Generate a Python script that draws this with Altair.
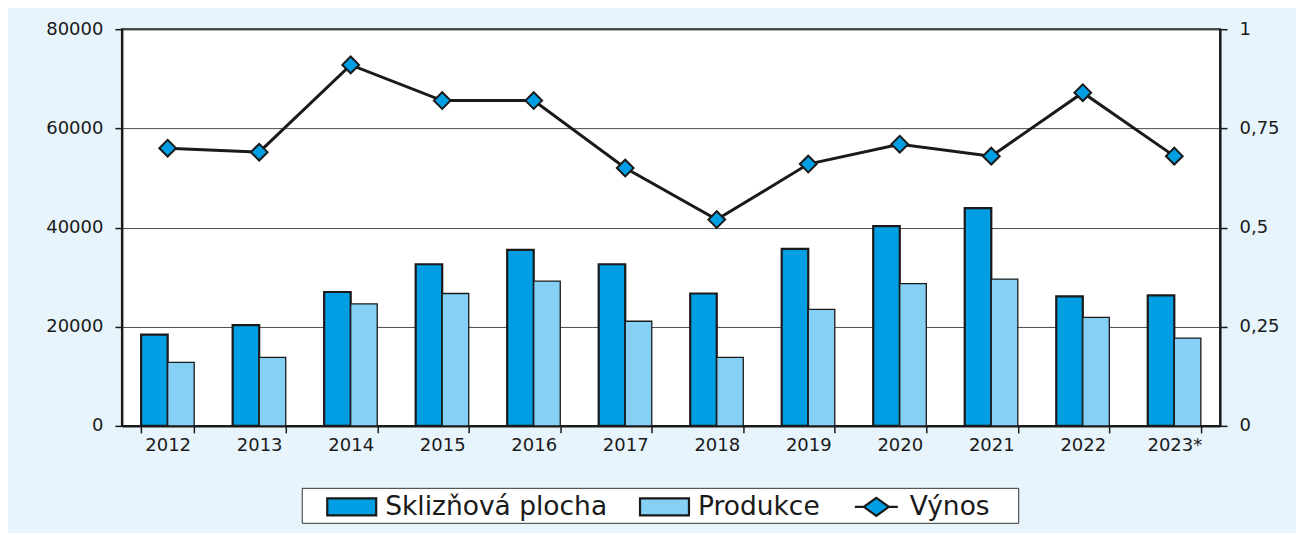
import altair as alt
import pandas as pd

years = ["2012", "2013", "2014", "2015", "2016", "2017", "2018", "2019", "2020", "2021", "2022", "2023*"]
plocha = [18400, 20300, 27000, 32600, 35500, 32600, 26700, 35700, 40300, 43900, 26100, 26300]
produkce = [12800, 13800, 24600, 26700, 29200, 21100, 13800, 23500, 28700, 29600, 21900, 17700]
vynos = [0.70, 0.69, 0.91, 0.82, 0.82, 0.65, 0.52, 0.66, 0.71, 0.68, 0.84, 0.68]

series_names = ["Sklizňová plocha", "Produkce", "Výnos"]
DARK = "#009fe3"
LIGHT = "#86cff5"
INK = "#1a1a1a"
BG = "#e8f4fc"
FONT = "DejaVu Sans"

bars_df = pd.DataFrame(
    [{"rok": y, "serie": series_names[0], "hodnota": v} for y, v in zip(years, plocha)]
    + [{"rok": y, "serie": series_names[1], "hodnota": v} for y, v in zip(years, produkce)]
)
line_df = pd.DataFrame({"rok": years, "vynos": vynos})

x_enc = alt.X(
    "rok:N",
    sort=years,
    title=None,
    scale=alt.Scale(paddingInner=0.42, paddingOuter=0.21),
    axis=alt.Axis(
        labelAngle=0, tickBand="extent", tickSize=7, tickColor=INK, tickWidth=1.5,
        domainColor=INK, domainWidth=2, labelFont=FONT, labelFontSize=18,
        labelColor=INK, labelPadding=4, grid=False,
    ),
)
y_left = alt.Y(
    "hodnota:Q",
    title=None,
    scale=alt.Scale(domain=[0, 80000], nice=False),
    axis=alt.Axis(
        values=[0, 20000, 40000, 60000, 80000], format="d", grid=True,
        gridColor="#4d4d4d", gridWidth=1, domainColor=INK, domainWidth=2,
        tickColor=INK, tickWidth=1.5, tickSize=7, labelPadding=12,
        labelFont=FONT, labelFontSize=18, labelColor=INK,
    ),
)

bars = alt.Chart(bars_df).mark_bar(stroke=INK).encode(
    x=x_enc,
    xOffset=alt.XOffset("serie:N", sort=series_names[:2], scale=alt.Scale(paddingInner=0, paddingOuter=0)),
    y=y_left,
    fill=alt.Fill("serie:N", scale=alt.Scale(domain=series_names[:2], range=[DARK, LIGHT]), legend=None),
    strokeWidth=alt.StrokeWidth("serie:N", scale=alt.Scale(domain=series_names[:2], range=[2.2, 1.3]), legend=None),
)

# legend symbols (custom paths, unit radius = sqrt(symbolSize)/2 = 15px);
# the trailing move-to point only widens the legend frame on its right
rect_path = "M-1.633,-0.567H1.633V0.567H-1.633Z"
line_diamond_path = "M-1.433,0H-0.833M0.833,0H1.433M0,-0.6L0.833,0L0,0.6L-0.833,0ZM9,0"

legend_def = alt.Legend(
    orient="none", legendX=180, legendY=459, direction="horizontal", title=None,
    fillColor="white", strokeColor="#333333", padding=2.5,
    symbolSize=900, symbolStrokeWidth=2.2, symbolOpacity=1, symbolOffset=31,
    labelFont=FONT, labelFontSize=26.5, labelColor=INK, labelOffset=17,
    columnPadding=9, labelLimit=400,
)

legend_layer = (
    alt.Chart(bars_df)
    .transform_filter("datum.hodnota < 0")
    .mark_point(filled=True, stroke=INK, strokeWidth=2.2)
    .encode(
        x=x_enc,
        y=y_left,
        color=alt.Color(
            "serie:N",
            scale=alt.Scale(domain=series_names, range=[DARK, LIGHT, DARK]),
            legend=legend_def,
        ),
        shape=alt.Shape(
            "serie:N",
            scale=alt.Scale(domain=series_names, range=[rect_path, rect_path, line_diamond_path]),
            legend=legend_def,
        ),
    )
)

y_right = alt.Y(
    "vynos:Q",
    title=None,
    scale=alt.Scale(domain=[0, 1], nice=False),
    axis=alt.Axis(
        orient="right", values=[0, 0.25, 0.5, 0.75, 1],
        labelExpr="replace(toString(datum.value), '.', ',')",
        grid=False, domainColor=INK, domainWidth=2, tickColor=INK, tickWidth=1.5,
        tickSize=7, labelPadding=12, labelFont=FONT, labelFontSize=18, labelColor=INK,
    ),
)

line = alt.Chart(line_df).mark_line(color=INK, strokeWidth=3).encode(x=x_enc, y=y_right)
points = alt.Chart(line_df).mark_point(
    shape="diamond", filled=True, fill=DARK, stroke=INK, strokeWidth=2, size=280, opacity=1
).encode(x=x_enc, y=y_right)

left = alt.layer(bars, legend_layer)
right = alt.layer(line, points)

chart = (
    alt.layer(left, right)
    .resolve_scale(y="independent")
    .properties(
        width=1099,
        height=397,
        autosize=alt.AutoSizeParams(type="none"),
        padding={"left": 114, "top": 21, "right": 76, "bottom": 107},
        background=BG,
    )
    .configure_view(fill="white", stroke=INK, strokeWidth=2)
)

chart.save("out.html", embed_options={"renderer": "svg", "actions": False})
